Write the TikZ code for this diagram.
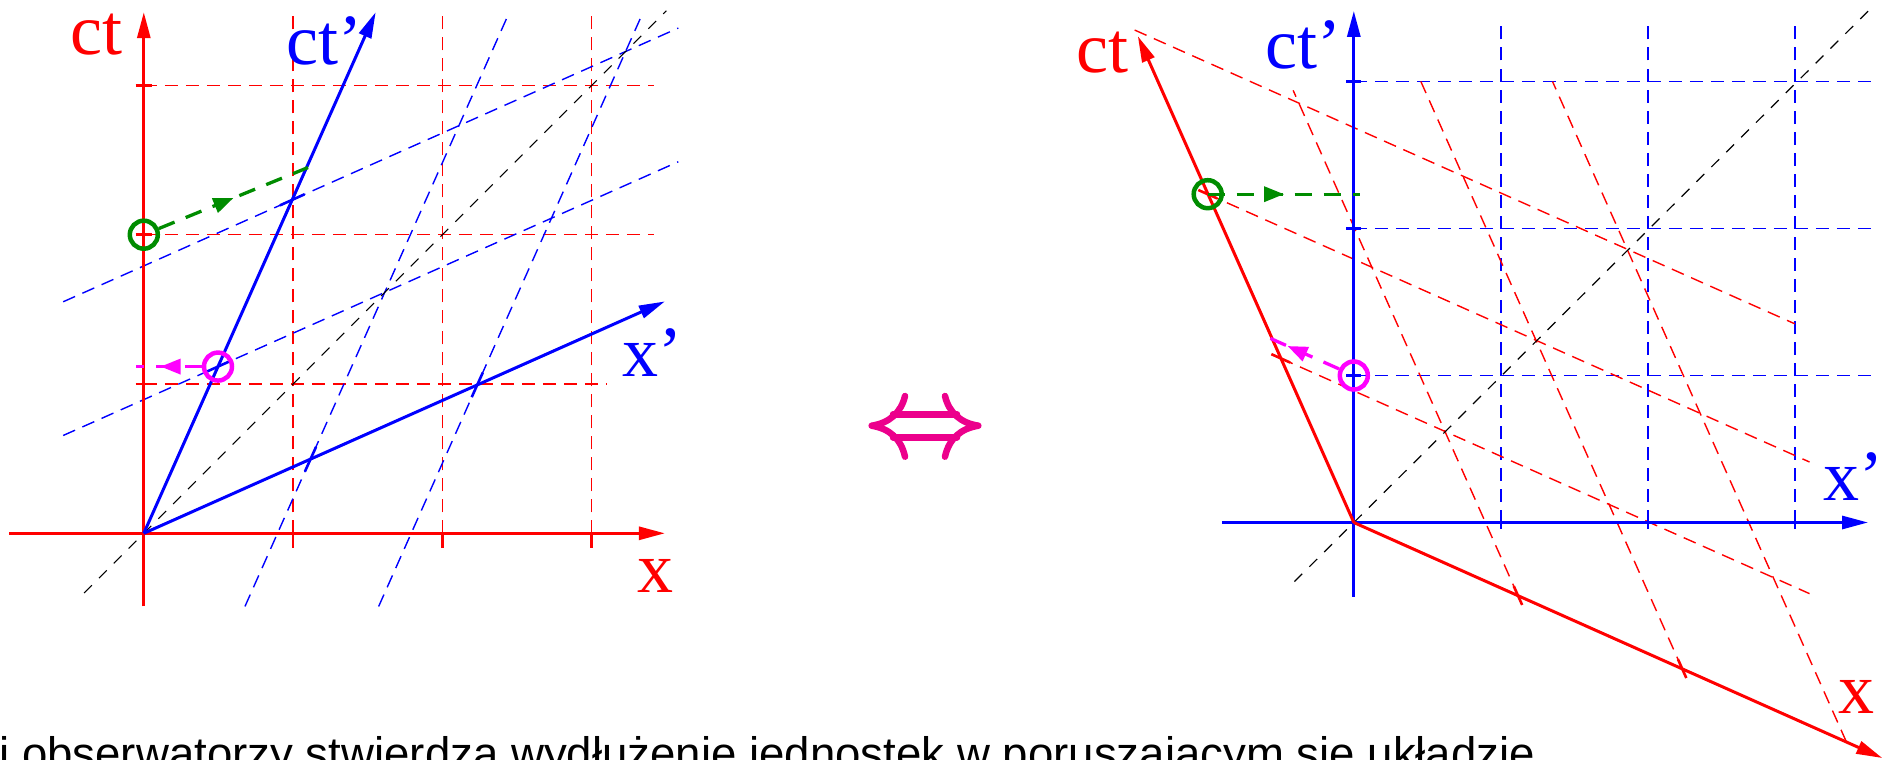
\documentclass[tikz,border=0pt]{standalone}
\usepackage{fontspec}
\setmainfont{Liberation Sans}
\newfontfamily\tms{Liberation Serif}
\usetikzlibrary{arrows.meta,decorations.markings,calc}
\definecolor{myred}{rgb}{1,0,0}
\definecolor{myblue}{rgb}{0,0,1}
\definecolor{mygreen}{rgb}{0,0.55,0}
\definecolor{mymag}{rgb}{1,0,1}
\definecolor{mypink}{RGB}{236,0,140}
\begin{document}
\begin{tikzpicture}[x=1pt,y=1pt,
  axis/.style={line width=3pt,-{Triangle[length=26pt,width=13pt]}},
  tickmark/.style={line width=2.6pt},
  gridline/.style={line width=1.4pt,dash pattern=on 13pt off 8pt},
  diag/.style={line width=1.2pt,black,dash pattern=on 11pt off 10pt},
  obs/.style={circle,draw,line width=4.5pt,minimum size=28pt,inner sep=0pt},
  probe/.style={line width=3.3pt,dash pattern=on 17pt off 12pt},
  midarrow/.style={postaction={decorate},decoration={markings,mark=at position #1 with {\arrow{Triangle[length=20pt,width=15pt]}}}},
  lab/.style={font=\fontsize{72}{72}\selectfont\tms,inner sep=0pt,anchor=base west},
]
\useasboundingbox (0,0) rectangle (1892,-760);

% ===================== LEFT DIAGRAM =====================
\begin{scope}[shift={(143.8,-533.3)},x=149.3pt,y=149.3pt]
  \coordinate (OL) at (0,0);
  % red grid
  \foreach \i in {1,2,3} \draw[gridline,myred] (\i,0) -- (\i,3.5);
  \draw[gridline,myred] (0,1) -- (3.1,1);
  \draw[gridline,myred] (0,2) -- (3.42,2);
  \draw[gridline,myred] (0,3) -- (3.42,3);
  % blue skewed grid
  \draw[gridline,myblue] (-0.54,0.6552) -- (3.58,2.4886);
  \draw[gridline,myblue] (-0.54,1.5507) -- (3.58,3.3841);
  \draw[gridline,myblue] (0.6775,-0.49) -- (2.4485,3.49);
  \draw[gridline,myblue] (1.5730,-0.49) -- (3.3441,3.49);
  % light line
  \draw[diag] (-0.40,-0.40) -- (3.50,3.50);
  % red axes
  \draw[axis,myred] (-0.90,0) -- (3.49,0);
  \draw[axis,myred] (0,-0.49) -- (0,3.49);
  \foreach \i in {1,2,3} {
    \draw[tickmark,myred] (\i,0) -- (\i,-0.1);
    \draw[tickmark,myred] (-0.055,\i) -- (0.055,\i);
  }
  % blue axes
  \draw[axis,myblue] (OL) -- (1.553,3.49);
  \draw[axis,myblue] (OL) -- (3.49,1.553);
  \draw[tickmark,myblue] (1.1167,0.4969) ++(-0.037,-0.082) -- ++(0.074,0.164);
  \draw[tickmark,myblue] (2.2334,0.9939) ++(-0.037,-0.082) -- ++(0.074,0.164);
  \draw[tickmark,myblue] (0.4969,1.1167) ++(-0.082,-0.037) -- ++(0.164,0.074);
  \draw[tickmark,myblue] (0.9939,2.2334) ++(-0.082,-0.037) -- ++(0.164,0.074);
  % observers
  \node[obs,mygreen] (gL) at (0,2) {};
  \coordinate (gLend) at (1.10,2.45);
  \draw[probe,mygreen,midarrow=0.5] (gL) -- (gLend);
  \node[obs,mymag] (mL) at (0.4969,1.1167) {};
  \coordinate (mLend) at (-0.05,1.1167);
  \draw[probe,mymag,midarrow=0.63] (mL) -- (mLend);
\end{scope}

% ===================== RIGHT DIAGRAM =====================
\begin{scope}[shift={(1353.8,-522.5)},x=147pt,y=147pt]
  \coordinate (OR) at (0,0);
  % blue grid
  \foreach \i in {1,2,3} {
    \draw[gridline,myblue] (\i,0) -- (\i,3.406);
    \draw[gridline,myblue] (0,\i) -- (3.515,\i);
  }
  % red skewed grid
  \draw[gridline,myred] (-0.4969,1.1167) -- (3.1,-0.4839);
  \draw[gridline,myred] (-0.9939,2.2334) -- (3.1,0.4116);
  \draw[gridline,myred] (-1.4908,3.3501) -- (3.0,1.3517);
  \draw[gridline,myred] (1.1167,-0.4969) -- (-0.4127,2.94);
  \draw[gridline,myred] (2.2334,-0.9939) -- (0.4561,3);
  \draw[gridline,myred] (3.3501,-1.4908) -- (1.3517,3);
  % light line
  \draw[diag] (-0.404,-0.402) -- (3.52,3.50);
  % blue axes
  \draw[axis,myblue] (-0.897,0) -- (3.498,0);
  \draw[axis,myblue] (0,-0.506) -- (0,3.48);
  \foreach \i in {1,2,3} {
    \draw[tickmark,myblue] (\i,-0.045) -- (\i,0.045);
    \draw[tickmark,myblue] (-0.05,\i) -- (0.05,\i);
  }
  % red axes
  \draw[axis,myred] (OR) -- (-1.469,3.308);
  \draw[axis,myred] (OR) -- (3.595,-1.602);
  \draw[tickmark,myred] (1.1167,-0.4969) ++(0.0285,-0.064) -- ++(-0.057,0.128);
  \draw[tickmark,myred] (2.2334,-0.9939) ++(0.0285,-0.064) -- ++(-0.057,0.128);
  \draw[tickmark,myred] (-0.4969,1.1167) ++(-0.064,0.0285) -- ++(0.128,-0.057);
  \draw[tickmark,myred] (-0.9939,2.2334) ++(-0.064,0.0285) -- ++(0.128,-0.057);
  % observers
  \node[obs,mygreen] (gR) at (-0.9939,2.2334) {};
  \coordinate (gRend) at (0.045,2.2334);
  \draw[probe,mygreen,midarrow=0.5] (gR.center) -- (gRend);
  \node[obs,mymag] (mR) at (0,1) {};
  \coordinate (mRend) at (-0.58,1.258);
  \draw[probe,mymag,midarrow=0.73] (mR) -- (mRend);
\end{scope}

% ===================== LABELS =====================
\node[lab,myred]  (ctL)  at (70,-55)   {ct};
\node[lab,myblue] (ctpL) at (286,-64)  {ct’};
\node[lab,myred]  (xL)   at (637,-592) {x};
\node[lab,myblue] (xpL)  at (622,-376) {x’};
\node[lab,myred]  (ctR)  at (1076,-73) {ct};
\node[lab,myblue] (ctpR) at (1265,-68) {ct’};
\node[lab,myblue] (xpR)  at (1823,-500) {x’};
\node[lab,myred]  (xR)   at (1838,-713) {x};

% ===================== EQUIVALENCE SYMBOL =====================
\begin{scope}[mypink,line width=6.5pt,line cap=round,line join=round]
  \draw (893,-414.3) -- (957,-414.3);
  \draw (893,-437.3) -- (957,-437.3);
  \draw (905,-396) .. controls (901,-413) and (889,-423) .. (871.7,-425.7)
        .. controls (889,-428.5) and (901,-438.5) .. (905,-456.7);
  \draw (945,-396) .. controls (949,-413) and (961,-423) .. (978.3,-425.7)
        .. controls (961,-428.5) and (949,-438.5) .. (945,-456.7);
\end{scope}

% ===================== CAPTION (cut by the page edge, as in the reference) =====================
\begin{scope}
  \clip (0,0) rectangle (1892,-760);
  \node[font=\fontsize{45.6}{50}\selectfont,anchor=base west,inner sep=0pt] (caption) at (-87,-769)
    {Obaj obserwatorzy stwierdzą wydłużenie jednostek w poruszającym się układzie};
\end{scope}
\end{tikzpicture}
\end{document}
